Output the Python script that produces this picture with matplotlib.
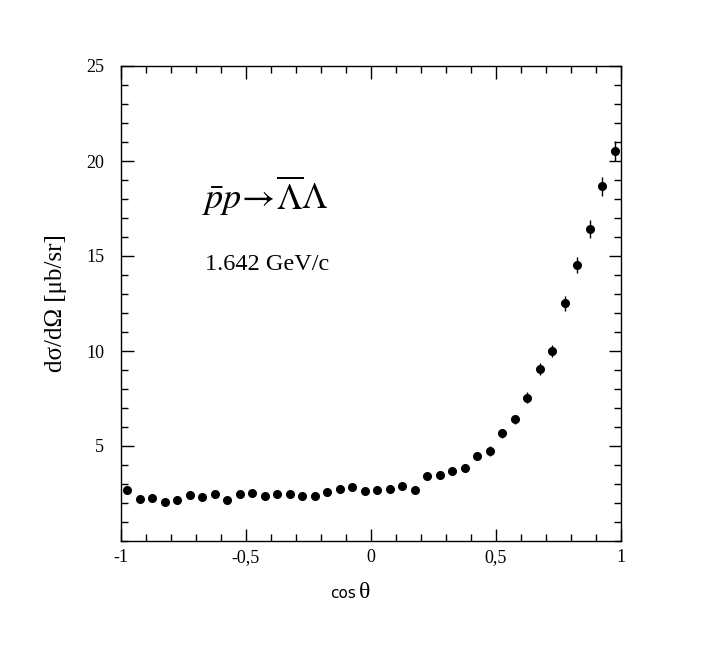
import matplotlib
matplotlib.use("Agg")
import matplotlib.pyplot as plt
from matplotlib.ticker import MultipleLocator, FixedLocator
import numpy as np

## donnees

cos_theta = [-0.975, -0.925, -0.875, -0.825, -0.775, -0.725, -0.675, -0.625,
             -0.575, -0.525, -0.475, -0.425, -0.375, -0.325, -0.275, -0.225,
             -0.175, -0.125, -0.075, -0.025, 0.025, 0.075, 0.125, 0.175,
             0.225, 0.275, 0.325, 0.375, 0.425, 0.475, 0.525, 0.575,
             0.625, 0.675, 0.725, 0.775, 0.825, 0.875, 0.925, 0.975]
dsig = [2.68, 2.19, 2.25, 2.05, 2.15, 2.40, 2.30, 2.49,
        2.15, 2.50, 2.54, 2.39, 2.50, 2.47, 2.37, 2.39,
        2.56, 2.72, 2.83, 2.61, 2.67, 2.72, 2.91, 2.70,
        3.40, 3.46, 3.67, 3.84, 4.46, 4.75, 5.67, 6.40,
        7.54, 9.07, 10.02, 12.51, 14.53, 16.42, 18.67, 20.51]
err = [0.12, 0.11, 0.11, 0.10, 0.10, 0.11, 0.11, 0.11,
       0.11, 0.11, 0.11, 0.11, 0.11, 0.11, 0.11, 0.11,
       0.12, 0.12, 0.12, 0.12, 0.12, 0.12, 0.13, 0.13,
       0.15, 0.15, 0.16, 0.17, 0.20, 0.25, 0.23, 0.25,
       0.30, 0.32, 0.31, 0.39, 0.43, 0.45, 0.49, 0.53]

x_ticks = [-1, -0.5, 0, 0.5, 1]
x_labels = ["-1", "-0,5", "0", "0,5", "1"]
y_ticks = [5, 10, 15, 20, 25]

plt.rcParams['font.family'] = ['Liberation Serif', 'DejaVu Serif']
plt.rcParams['mathtext.fontset'] = 'stix'

fig = plt.figure(figsize=(7.04, 6.61), dpi=100)
ax = fig.add_axes([121/704, 1-541/661, 500/704, 475/661])

ax.errorbar(cos_theta, dsig, yerr=err, fmt='o', color='black', ms=5.5,
            elinewidth=1, capsize=0)

ax.set_xlim(-1, 1)
ax.set_ylim(0, 25)
ax.xaxis.set_major_locator(FixedLocator(x_ticks))
ax.set_xticklabels(x_labels)
ax.xaxis.set_minor_locator(MultipleLocator(0.1))
ax.yaxis.set_major_locator(FixedLocator(y_ticks))
ax.yaxis.set_minor_locator(MultipleLocator(1))
ax.tick_params(which='both', direction='in', top=True, right=True,
               labelsize=13, width=1)
ax.tick_params(which='major', length=9)
ax.tick_params(axis='y', which='major', pad=12)
ax.tick_params(axis='x', which='major', pad=6)
ax.tick_params(which='minor', length=5)
for s in ax.spines.values():
    s.set_linewidth(1)

ax.set_ylabel("dσ/dΩ [μb/sr]", fontsize=18, labelpad=14)
fig.text(356/704, 1-594/661, "cos", fontsize=11, family='DejaVu Sans',
         ha='right', va='center')
fig.text(359/704, 1-592/661, "θ", fontsize=17, ha='left', va='center')

ax.text(0.163, 0.70, r"$\bar{p}p\!\rightarrow\!\overline{\Lambda}\Lambda$",
        transform=ax.transAxes, fontsize=26)
ax.text(0.168, 0.57, "1.642 GeV/c", transform=ax.transAxes, fontsize=17.5)

fig.savefig("out.png", dpi=100)
